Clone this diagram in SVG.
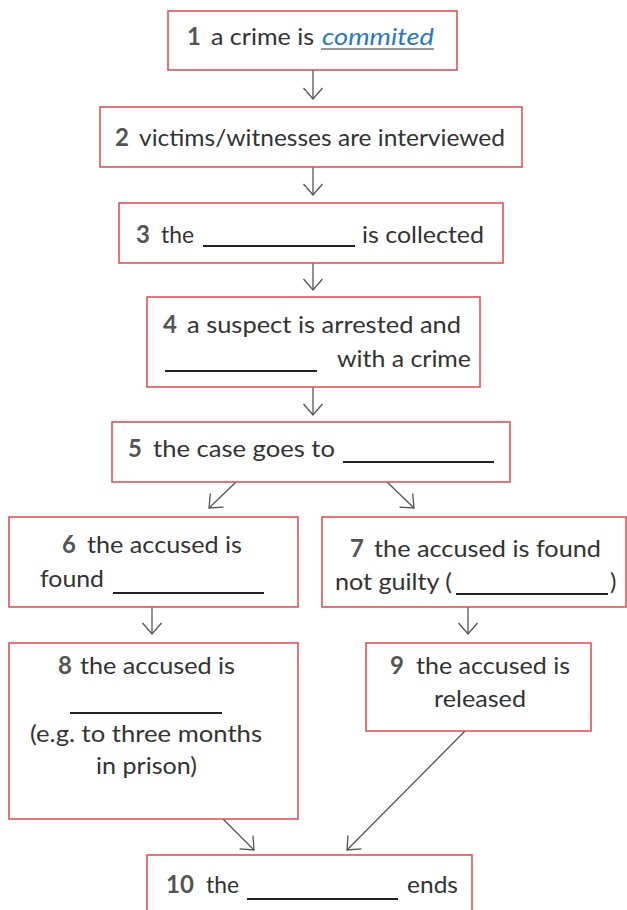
<svg xmlns="http://www.w3.org/2000/svg" width="627" height="910" viewBox="0 0 627 910">
<style>
.box{fill:#fff;stroke:#e0474c;stroke-width:1.5}
text{font-family:Lato,"Liberation Sans",sans-serif;font-size:24px;fill:#333}
.n{font-weight:bold;fill:#555}
.b{stroke:#222;stroke-width:2}
.c{stroke:#555;stroke-width:1.3;fill:none}
</style>
<defs>
<marker id="ah" markerUnits="userSpaceOnUse" markerWidth="14" markerHeight="22" viewBox="-1 -1 14 22" refX="11" refY="9.5" orient="auto">
<path d="M0,0 L11,9.5 L0,19" fill="none" stroke="#555" stroke-width="1.3"/>
</marker>
</defs>
<rect width="627" height="910" fill="#fff"/>
<g id="connectors">
<line class="c" x1="313" y1="70" x2="313" y2="99" marker-end="url(#ah)"/>
<line class="c" x1="313" y1="167" x2="313" y2="195" marker-end="url(#ah)"/>
<line class="c" x1="313" y1="263" x2="313" y2="290" marker-end="url(#ah)"/>
<line class="c" x1="313" y1="387" x2="313" y2="415" marker-end="url(#ah)"/>
<line class="c" x1="236" y1="482" x2="209" y2="508" marker-end="url(#ah)"/>
<line class="c" x1="387" y1="482" x2="414" y2="508" marker-end="url(#ah)"/>
<line class="c" x1="152" y1="607" x2="152" y2="634" marker-end="url(#ah)"/>
<line class="c" x1="468" y1="607" x2="468" y2="634" marker-end="url(#ah)"/>
<line class="c" x1="223" y1="819" x2="254" y2="850" marker-end="url(#ah)"/>
<line class="c" x1="465" y1="731" x2="347" y2="850" marker-end="url(#ah)"/>
</g>
<g id="n1">
<rect class="box" x="168" y="11" width="289" height="59"/>
<text x="187" y="45" class="n">1</text>
<text x="211" y="45" textLength="103" lengthAdjust="spacingAndGlyphs">a crime is</text>
<text x="322" y="45" style="font-style:italic;fill:#2a7ab8" textLength="112" lengthAdjust="spacingAndGlyphs">commited</text>
<line x1="321" y1="49" x2="434" y2="49" stroke="#777" stroke-width="1.5"/>
</g>
<g id="n2">
<rect class="box" x="100" y="107" width="422" height="60"/>
<text x="115" y="146" class="n">2</text>
<text x="139" y="146" textLength="366" lengthAdjust="spacingAndGlyphs">victims/witnesses are interviewed</text>
</g>
<g id="n3">
<rect class="box" x="119" y="203" width="384" height="60"/>
<text x="136" y="243" class="n">3</text>
<text x="161" y="243" textLength="33" lengthAdjust="spacingAndGlyphs">the</text>
<line class="b" x1="203" y1="246" x2="355" y2="246"/>
<text x="362" y="243" textLength="122" lengthAdjust="spacingAndGlyphs">is collected</text>
</g>
<g id="n4">
<rect class="box" x="147" y="297" width="333" height="90"/>
<text x="163" y="333" class="n">4</text>
<text x="187" y="333" textLength="274" lengthAdjust="spacingAndGlyphs">a suspect is arrested and</text>
<line class="b" x1="165" y1="371" x2="317" y2="371"/>
<text x="337" y="367" textLength="134" lengthAdjust="spacingAndGlyphs">with a crime</text>
</g>
<g id="n5">
<rect class="box" x="112" y="422" width="398" height="60"/>
<text x="128" y="457" class="n">5</text>
<text x="153" y="457" textLength="182" lengthAdjust="spacingAndGlyphs">the case goes to</text>
<line class="b" x1="343" y1="462" x2="494" y2="462"/>
</g>
<g id="n6">
<rect class="box" x="9" y="517" width="289" height="90"/>
<text x="62" y="553" class="n">6</text>
<text x="87" y="553" textLength="155" lengthAdjust="spacingAndGlyphs">the accused is</text>
<text x="40" y="587" textLength="64" lengthAdjust="spacingAndGlyphs">found</text>
<line class="b" x1="113" y1="593" x2="264" y2="593"/>
</g>
<g id="n7">
<rect class="box" x="322" y="517" width="304" height="90"/>
<text x="350" y="557" class="n">7</text>
<text x="374" y="557" textLength="227" lengthAdjust="spacingAndGlyphs">the accused is found</text>
<text x="335" y="590" textLength="117" lengthAdjust="spacingAndGlyphs">not guilty (</text>
<line class="b" x1="456" y1="594" x2="608" y2="594"/>
<text x="610" y="590">)</text>
</g>
<g id="n8">
<rect class="box" x="9" y="643" width="289" height="176"/>
<text x="58" y="674" class="n">8</text>
<text x="80" y="674" textLength="155" lengthAdjust="spacingAndGlyphs">the accused is</text>
<line class="b" x1="70" y1="713" x2="222" y2="713"/>
<text x="30" y="742" textLength="232" lengthAdjust="spacingAndGlyphs">(e.g. to three months</text>
<text x="96" y="774" textLength="101" lengthAdjust="spacingAndGlyphs">in prison)</text>
</g>
<g id="n9">
<rect class="box" x="366" y="643" width="225" height="88"/>
<text x="390" y="674" class="n">9</text>
<text x="416" y="674" textLength="154" lengthAdjust="spacingAndGlyphs">the accused is</text>
<text x="434" y="707" textLength="92" lengthAdjust="spacingAndGlyphs">released</text>
</g>
<g id="n10">
<rect class="box" x="147" y="855" width="325" height="70"/>
<text x="166" y="893" class="n">10</text>
<text x="206" y="893" textLength="33" lengthAdjust="spacingAndGlyphs">the</text>
<line class="b" x1="247" y1="899" x2="398" y2="899"/>
<text x="407" y="893" textLength="51" lengthAdjust="spacingAndGlyphs">ends</text>
</g>
</svg>
